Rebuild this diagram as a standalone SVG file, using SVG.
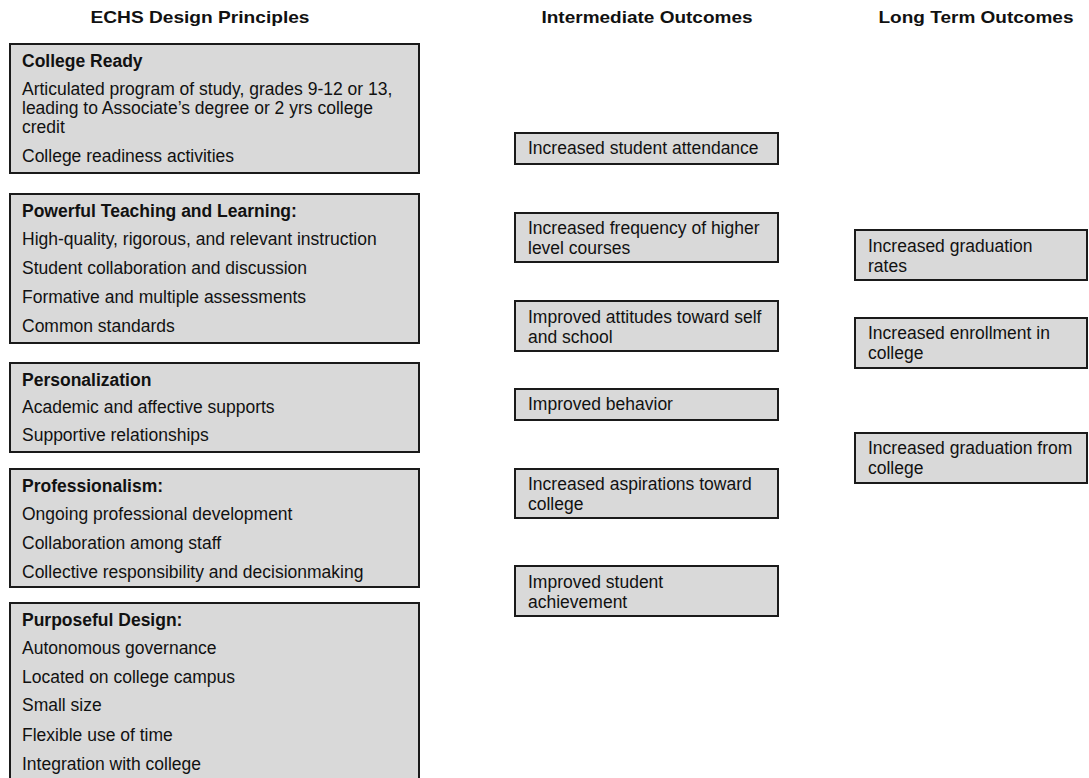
<svg xmlns="http://www.w3.org/2000/svg" width="1089" height="778" viewBox="0 0 1089 778">
<style>
.box{fill:#d9d9d9;stroke:#1a1a1a;stroke-width:2}
text{font-family:"Liberation Sans",Arial,sans-serif;font-size:17.5px;fill:#111}
.h{font-weight:bold}
.t{font-weight:bold;font-size:16.5px;text-anchor:middle}
</style>
<rect width="1089" height="778" fill="#fff"/>
<g id="titles">
<text class="t" x="200" y="23" textLength="219" lengthAdjust="spacingAndGlyphs">ECHS Design Principles</text>
<text class="t" x="647" y="23" textLength="211" lengthAdjust="spacingAndGlyphs">Intermediate Outcomes</text>
<text class="t" x="976" y="23" textLength="195" lengthAdjust="spacingAndGlyphs">Long Term Outcomes</text>
</g>
<g id="college-ready">
<rect class="box" x="10" y="44" width="409" height="129"/>
<text class="h" x="22" y="67">College Ready</text>
<text x="22" y="95">Articulated program of study, grades 9-12 or 13,</text>
<text x="22" y="114">leading to Associate’s degree or 2 yrs college</text>
<text x="22" y="133">credit</text>
<text x="22" y="162">College readiness activities</text>
</g>
<g id="powerful-teaching">
<rect class="box" x="10" y="194" width="409" height="149"/>
<text class="h" x="22" y="217">Powerful Teaching and Learning:</text>
<text x="22" y="245">High-quality, rigorous, and relevant instruction</text>
<text x="22" y="274">Student collaboration and discussion</text>
<text x="22" y="303">Formative and multiple assessments</text>
<text x="22" y="332">Common standards</text>
</g>
<g id="personalization">
<rect class="box" x="10" y="363" width="409" height="89"/>
<text class="h" x="22" y="386">Personalization</text>
<text x="22" y="413">Academic and affective supports</text>
<text x="22" y="441">Supportive relationships</text>
</g>
<g id="professionalism">
<rect class="box" x="10" y="469" width="409" height="118"/>
<text class="h" x="22" y="492">Professionalism:</text>
<text x="22" y="520">Ongoing professional development</text>
<text x="22" y="549">Collaboration among staff</text>
<text x="22" y="578">Collective responsibility and decisionmaking</text>
</g>
<g id="purposeful-design">
<rect class="box" x="10" y="603" width="409" height="190"/>
<text class="h" x="22" y="626">Purposeful Design:</text>
<text x="22" y="654">Autonomous governance</text>
<text x="22" y="683">Located on college campus</text>
<text x="22" y="711">Small size</text>
<text x="22" y="741">Flexible use of time</text>
<text x="22" y="770">Integration with college</text>
</g>
<g id="attendance">
<rect class="box" x="515" y="133" width="263" height="31"/>
<text x="528" y="154">Increased student attendance</text>
</g>
<g id="higher-level">
<rect class="box" x="515" y="213" width="263" height="49"/>
<text x="528" y="234">Increased frequency of higher</text>
<text x="528" y="254">level courses</text>
</g>
<g id="attitudes">
<rect class="box" x="515" y="301" width="263" height="50"/>
<text x="528" y="323">Improved attitudes toward self</text>
<text x="528" y="343">and school</text>
</g>
<g id="behavior">
<rect class="box" x="515" y="389" width="263" height="31"/>
<text x="528" y="410">Improved behavior</text>
</g>
<g id="aspirations">
<rect class="box" x="515" y="469" width="263" height="49"/>
<text x="528" y="490">Increased aspirations toward</text>
<text x="528" y="510">college</text>
</g>
<g id="achievement">
<rect class="box" x="515" y="566" width="263" height="50"/>
<text x="528" y="588">Improved student</text>
<text x="528" y="608">achievement</text>
</g>
<g id="graduation-rates">
<rect class="box" x="855" y="230" width="232" height="50"/>
<text x="868" y="252">Increased graduation</text>
<text x="868" y="272">rates</text>
</g>
<g id="enrollment">
<rect class="box" x="855" y="318" width="232" height="50"/>
<text x="868" y="339">Increased enrollment in</text>
<text x="868" y="359">college</text>
</g>
<g id="graduation-college">
<rect class="box" x="855" y="433" width="232" height="50"/>
<text x="868" y="454">Increased graduation from</text>
<text x="868" y="474">college</text>
</g>
<g id="connectors"></g>
</svg>
